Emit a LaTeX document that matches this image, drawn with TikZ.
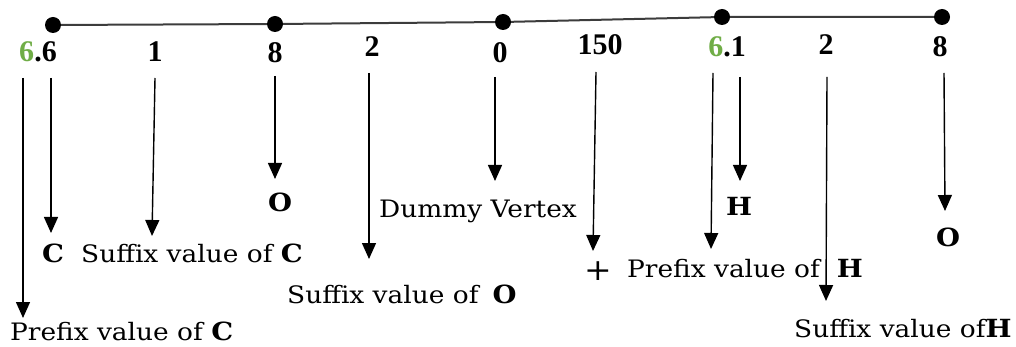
\documentclass[tikz,border=0pt]{standalone}
\usepackage{fontspec}
\setmainfont[FakeStretch=1.1]{DejaVu Serif}
\newfontfamily\digfont{Liberation Serif}
\usetikzlibrary{arrows.meta}
\definecolor{leafgreen}{RGB}{112,173,71}
\definecolor{linegray}{RGB}{60,60,60}
\newcommand{\bl}[1]{{\fontsize{25}{28}\selectfont\bfseries #1}}
\tikzset{
  dotnode/.style={circle,fill=black,inner sep=0pt,minimum size=16pt},
  numlbl/.style={anchor=base,inner sep=0pt,font=\digfont\bfseries\fontsize{30}{32}\selectfont},
  txt/.style={anchor=base west,inner sep=0pt,font=\fontsize{24}{28}\selectfont},
  ptr/.style={-{Triangle[width=14pt,length=16pt]},line width=1.4pt,black},
  spine/.style={line width=2pt,linegray}
}
\begin{document}
\begin{tikzpicture}[x=1pt,y=-1pt]
\useasboundingbox (0,0) rectangle (1016,347);
% spine with vertices
\node[dotnode] (d1) at (53,25) {};
\node[dotnode] (d2) at (275,24) {};
\node[dotnode] (d3) at (503,22) {};
\node[dotnode] (d4) at (722,17) {};
\node[dotnode] (d5) at (942,17) {};
\draw[spine] (d1) -- (d2) -- (d3) -- (d4) -- (d5);
% numbers
\node[numlbl] (n1) at (38,62) {\textcolor{leafgreen}{6}.6};
\node[numlbl] (n2) at (155,62) {1};
\node[numlbl] (n3) at (275,63) {8};
\node[numlbl] (n4) at (372,57) {2};
\node[numlbl] (n5) at (500,63) {0};
\node[numlbl] (n6) at (600,55) {150};
\node[numlbl] (n7) at (727,57) {\textcolor{leafgreen}{6}.1};
\node[numlbl] (n8) at (826,55) {2};
\node[numlbl] (n9) at (940,57) {8};
% labels
\node[txt] (lC) at (42,262) {\bl{C}};
\node[txt] (lSC) at (81,262) {Suffix value of \bl{C}};
\node[txt] (lO1) at (268,212) {\bl{O}};
\node[txt] (lDV) at (379,218) {Dummy Vertex};
\node[txt] (lSO) at (287,303) {Suffix value of\hspace{14pt}\bl{O}};
\node[txt,font=\fontsize{30}{32}\selectfont] (lPlus) at (584,280) {+};
\node[txt] (lPH) at (627,277) {Prefix value of\hspace{17pt}\bl{H}};
\node[txt] (lH) at (726,215) {\bl{H}};
\node[txt] (lO2) at (936,247) {\bl{O}};
\node[txt] (lSH) at (794,337) {Suffix value of\bl{H}};
\node[txt] (lPC) at (10,340) {Prefix value of \bl{C}};
% arrow end points
\coordinate (s1) at (23,78);   \coordinate (e1) at (23,318);
\coordinate (s2) at (51,78);   \coordinate (e2) at (51,233);
\coordinate (s3) at (155,78);  \coordinate (e3) at (152,236);
\coordinate (s4) at (275,76);  \coordinate (e4) at (275,179);
\coordinate (s5) at (369,73);  \coordinate (e5) at (369,259);
\coordinate (s6) at (495,77);  \coordinate (e6) at (495,181);
\coordinate (s7) at (596,72);  \coordinate (e7) at (593,251);
\coordinate (s8) at (713,73);  \coordinate (e8) at (711,249);
\coordinate (s9) at (740,77);  \coordinate (e9) at (740,181);
\coordinate (s10) at (827,77); \coordinate (e10) at (826,301);
\coordinate (s11) at (944,73); \coordinate (e11) at (945,211);
\foreach \i in {1,...,11} \draw[ptr] (s\i) -- (e\i);
\end{tikzpicture}
\end{document}
